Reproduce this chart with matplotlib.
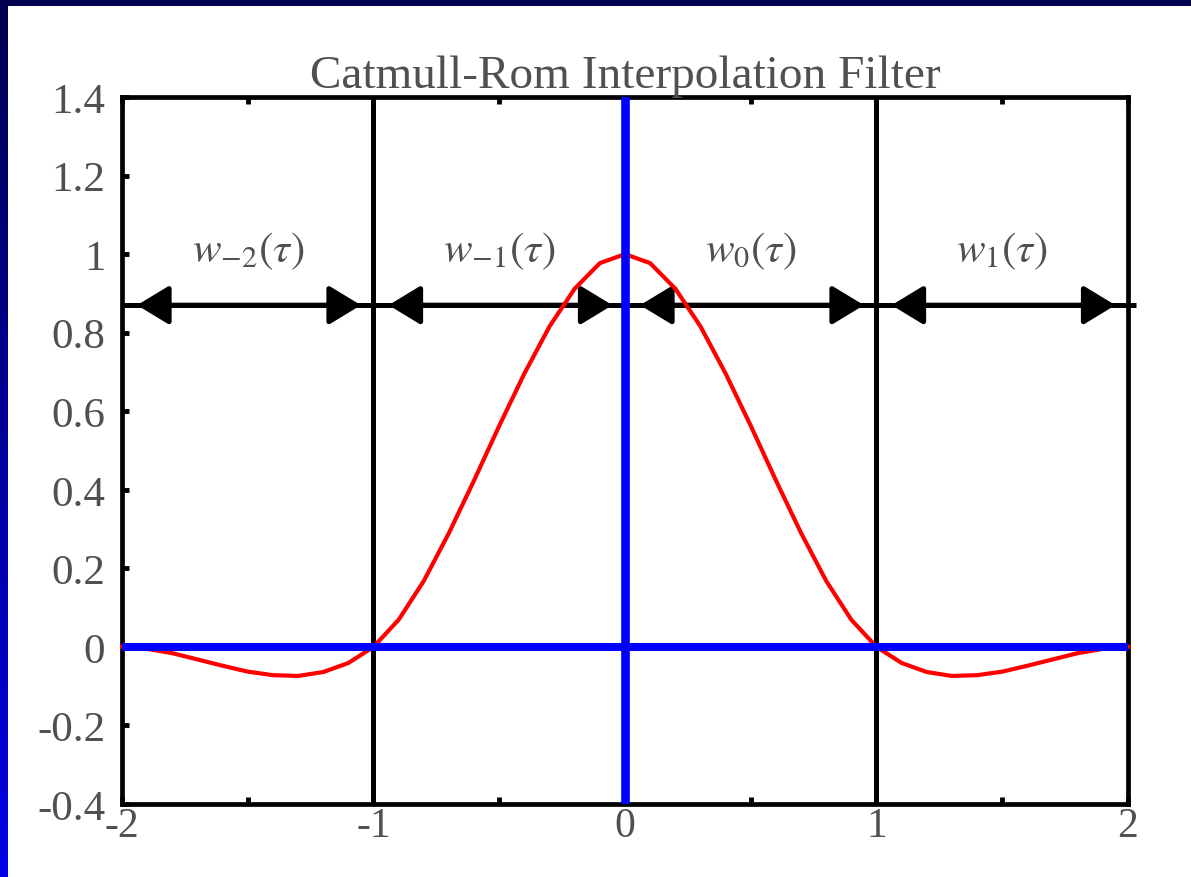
import numpy as np
import matplotlib
matplotlib.use("Agg")
import matplotlib.pyplot as plt
from matplotlib.patches import Rectangle
from matplotlib.colors import LinearSegmentedColormap

# Catmull-Rom kernel samples, tau from -2 to 2
tau = [-2.0, -1.9, -1.8, -1.7, -1.6, -1.5, -1.4, -1.3, -1.2, -1.1,
       -1.0, -0.9, -0.8, -0.7, -0.6, -0.5, -0.4, -0.3, -0.2, -0.1,
       0.0, 0.1, 0.2, 0.3, 0.4, 0.5, 0.6, 0.7, 0.8, 0.9,
       1.0, 1.1, 1.2, 1.3, 1.4, 1.5, 1.6, 1.7, 1.8, 1.9, 2.0]
weight = [0.0, -0.005, -0.016, -0.032, -0.048, -0.063, -0.072, -0.074, -0.064, -0.041,
          0.0, 0.069, 0.168, 0.290, 0.424, 0.563, 0.696, 0.816, 0.912, 0.977,
          1.0, 0.977, 0.912, 0.816, 0.696, 0.563, 0.424, 0.290, 0.168, 0.069,
          0.0, -0.041, -0.064, -0.074, -0.072, -0.063, -0.048, -0.032, -0.016, -0.005, 0.0]

segment_starts = [-2, -1, 0, 1]
segment_labels = [r"$w_{-2}(\tau)$", r"$w_{-1}(\tau)$", r"$w_{0}(\tau)$", r"$w_{1}(\tau)$"]
label_y = 1.01
arrow_y = 0.87

x_ticks = [-2, -1, 0, 1, 2]
x_tick_labels = ["-2", "-1", "0", "1", "2"]
x_minor = [-1.5, -0.5, 0.5, 1.5]
y_ticks = [1.4, 1.2, 1.0, 0.8, 0.6, 0.4, 0.2, 0.0, -0.2, -0.4]
y_tick_labels = ["1.4", "1.2", "1", "0.8", "0.6", "0.4", "0.2", "0", "-0.2", "-0.4"]

plt.rcParams["mathtext.fontset"] = "stix"
plt.rcParams["font.family"] = ["Liberation Serif", "DejaVu Serif"]

TEXT = "#505050"
W, H = 1191, 878
fig = plt.figure(figsize=(W / 100, H / 100), dpi=100)
fig.patch.set_facecolor("white")

# slide frame: dark top bar and a left bar shading from navy to blue
fig.patches.append(Rectangle((0, 1 - 7 / H), 1, 7 / H, transform=fig.transFigure,
                             facecolor="#000050", edgecolor="none", zorder=0))
bar = fig.add_axes([0, 0, 8 / W, 1])
bar.axis("off")
grad = LinearSegmentedColormap.from_list("bar", ["#000050", "#0000e6"])
bar.imshow(np.linspace(0, 1, 256)[:, None], cmap=grad, aspect="auto",
           extent=[0, 1, 0, 1], origin="upper")

ax = fig.add_axes([122 / W, 1 - 805 / H, (1128 - 122) / W, (805 - 98) / H])
ax.set_xlim(-2, 2)
ax.set_ylim(-0.4, 1.4)

# region boundaries
for xb in (-1, 1):
    ax.axvline(xb, color="black", lw=3.6, zorder=2)

# filter curve
ax.plot(tau, weight, color="#ff0000", lw=3.0, zorder=3, clip_on=False)

# support arrows for each weight function
ax.plot([-2, 2.03], [arrow_y, arrow_y], color="black", lw=3.6, zorder=2,
        clip_on=False, solid_capstyle="butt")
for s, lab in zip(segment_starts, segment_labels):
    ax.annotate("", xy=(s + 0.95, arrow_y), xytext=(s + 0.06, arrow_y),
                arrowprops=dict(arrowstyle="<|-|>,head_length=1.4,head_width=0.85",
                                mutation_scale=14, lw=3.6, color="black",
                                shrinkA=0, shrinkB=0), zorder=2)
    ax.text(s + 0.5, label_y, lab, ha="center", va="center", fontsize=31,
            color=TEXT)

# coordinate axes
ax.axhline(0, color="#0000ff", lw=5.8, zorder=4)
ax.axvline(0, color="#0000ff", lw=6.2, zorder=4)

ax.set_xticks(x_ticks)
ax.set_xticklabels(x_tick_labels)
ax.set_xticks(x_minor, minor=True)
ax.set_yticks(y_ticks)
ax.set_yticklabels(y_tick_labels)
ax.tick_params(axis="both", which="both", direction="in", length=5, width=3.5,
               colors="black", labelcolor=TEXT)
ax.tick_params(axis="x", which="both", top=True, pad=2, labelsize=30)
ax.tick_params(axis="y", pad=12, right=False, labelsize=31)
for sp in ax.spines.values():
    sp.set_linewidth(3.4)
    sp.set_color("black")

ax.set_title("Catmull-Rom Interpolation Filter", fontsize=34, color=TEXT, pad=6)

fig.savefig("out.png", dpi=100, facecolor="white")
